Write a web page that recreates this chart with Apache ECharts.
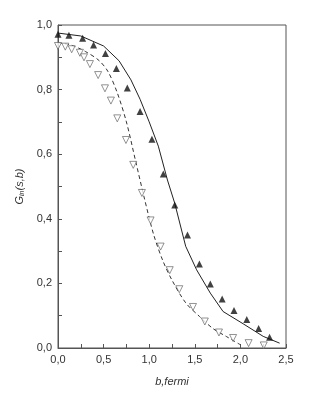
<!DOCTYPE html>
<html>
<head>
<meta charset="utf-8">
<script src="https://cdn.jsdelivr.net/npm/echarts@6/dist/echarts.min.js"></script>
<style>html,body{margin:0;padding:0;background:#fff}#c{width:311px;height:407px}</style>
</head>
<body>
<div id="c"></div>
<script>
const filledX = [0.00, 0.12, 0.27, 0.39, 0.52, 0.64, 0.76, 0.90, 1.03, 1.155, 1.28, 1.42, 1.55, 1.67, 1.80, 1.93, 2.07, 2.20, 2.32];
const filledY = [0.971, 0.968, 0.959, 0.938, 0.912, 0.865, 0.805, 0.732, 0.646, 0.539, 0.443, 0.350, 0.260, 0.198, 0.152, 0.116, 0.088, 0.060, 0.033];
const openX = [0.00, 0.08, 0.15, 0.24, 0.285, 0.35, 0.44, 0.515, 0.58, 0.65, 0.745, 0.825, 0.92, 1.015, 1.125, 1.225, 1.33, 1.48, 1.61, 1.765, 1.92, 2.09, 2.256];
const openY = [0.935, 0.933, 0.925, 0.914, 0.900, 0.879, 0.845, 0.804, 0.766, 0.711, 0.644, 0.567, 0.480, 0.395, 0.314, 0.241, 0.182, 0.127, 0.082, 0.048, 0.031, 0.015, 0.008];
const solidX = [0.00, 0.25, 0.50, 0.67, 0.80, 0.90, 1.00, 1.10, 1.20, 1.28, 1.40, 1.52, 1.67, 1.81, 2.03, 2.25, 2.43];
const solidY = [0.975, 0.966, 0.935, 0.889, 0.830, 0.770, 0.700, 0.625, 0.520, 0.448, 0.315, 0.242, 0.170, 0.113, 0.075, 0.036, 0.015];
const dashX = [0.00, 0.15, 0.30, 0.45, 0.55, 0.65, 0.75, 0.85, 0.95, 1.05, 1.15, 1.25, 1.40, 1.55, 1.70, 1.85, 2.00];
const dashY = [0.945, 0.937, 0.918, 0.890, 0.855, 0.790, 0.700, 0.580, 0.460, 0.350, 0.270, 0.210, 0.140, 0.098, 0.060, 0.035, 0.010];
const xTicks = [0, 0.5, 1.0, 1.5, 2.0, 2.5];
const yTicks = [0, 0.2, 0.4, 0.6, 0.8, 1.0];

const pairs = (xs, ys) => xs.map((x, i) => [x, ys[i]]);
const fmt = v => v.toFixed(1).replace('.', ',');
const axisColor = '#555';
const font = 'Liberation Sans, Arial, sans-serif';

const chart = echarts.init(document.getElementById('c'), null, {renderer: 'canvas'});
chart.setOption({
  animation: false,
  backgroundColor: '#fff',
  grid: {left: 58, right: 25, top: 25, bottom: 59, show: true, borderColor: axisColor, borderWidth: 1, backgroundColor: 'transparent'},
  xAxis: {
    type: 'value', min: xTicks[0], max: xTicks[xTicks.length - 1], interval: 0.5,
    axisLine: {show: true, lineStyle: {color: axisColor, width: 1}},
    axisTick: {show: true, inside: true, length: 4, lineStyle: {color: axisColor}},
    minorTick: {show: true, splitNumber: 2, length: 4, lineStyle: {color: axisColor}},
    splitLine: {show: false},
    axisLabel: {formatter: fmt, color: '#333', fontSize: 11, fontFamily: font, margin: 6},
    name: 'b,fermi', nameLocation: 'middle', nameGap: 28,
    nameTextStyle: {fontStyle: 'italic', fontSize: 11, color: '#333', fontFamily: font}
  },
  yAxis: {
    type: 'value', min: yTicks[0], max: yTicks[yTicks.length - 1], interval: 0.2,
    axisLine: {show: true, lineStyle: {color: axisColor, width: 1}},
    axisTick: {show: true, inside: true, length: 4, lineStyle: {color: axisColor}},
    minorTick: {show: true, splitNumber: 2, length: 4, lineStyle: {color: axisColor}},
    splitLine: {show: false},
    axisLabel: {formatter: fmt, color: '#333', fontSize: 11, fontFamily: font, margin: 6},
    name: '{g|G}{s|in}{g|(s,b)}', nameLocation: 'middle', nameGap: 31, nameRotate: 90,
    nameTextStyle: {
      color: '#333', fontFamily: font,
      rich: {
        g: {fontStyle: 'italic', fontSize: 11, color: '#333', fontFamily: font, verticalAlign: 'bottom', lineHeight: 14},
        s: {fontStyle: 'italic', fontSize: 7, color: '#333', fontFamily: font, verticalAlign: 'bottom', lineHeight: 8}
      }
    }
  },
  series: [
    {type: 'line', data: pairs(solidX, solidY), showSymbol: false, symbol: 'none', lineStyle: {color: '#222', width: 1}, z: 2},
    {type: 'line', data: pairs(dashX, dashY), showSymbol: false, symbol: 'none', smooth: 0.3, lineStyle: {color: '#333', width: 1, type: [4, 3]}, z: 2},
    {type: 'scatter', data: pairs(filledX, filledY), symbol: 'triangle', symbolSize: 7, itemStyle: {color: '#111'}, z: 3},
    {type: 'scatter', data: pairs(openX, openY), symbol: 'triangle', symbolRotate: 180, symbolSize: 7, itemStyle: {color: '#fff', borderColor: '#555', borderWidth: 0.8}, z: 3}
  ]
});
</script>
</body>
</html>
